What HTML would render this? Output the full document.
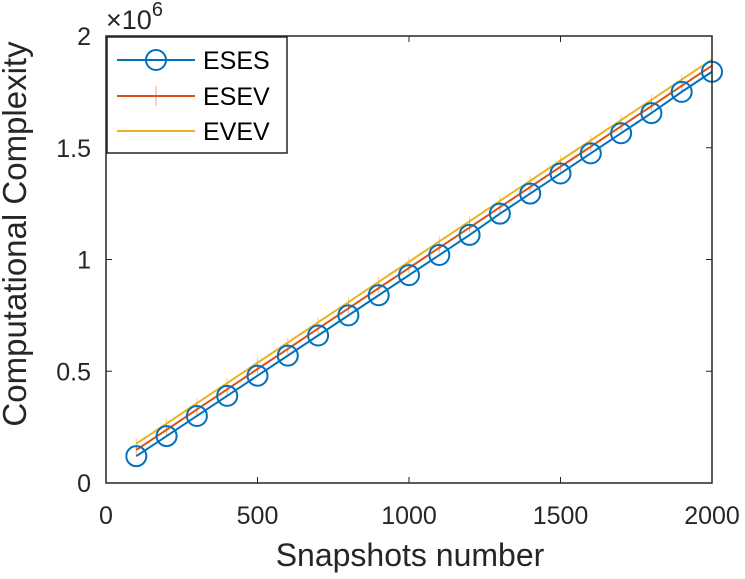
<!DOCTYPE html>
<html><head><meta charset="utf-8"><style>
body{margin:0;background:#fff;font-family:"Liberation Sans",Arial,sans-serif}
text{font-family:"Liberation Sans",Arial,sans-serif}
</style></head><body>
<svg id="chart" width="745" height="579" viewBox="0 0 745 579" xmlns="http://www.w3.org/2000/svg" style="position:absolute;left:0;top:0">
<g id="series"></g>
<g id="axes"></g>
</svg>
<script>
const xCats=[100,200,300,400,500,600,700,800,900,1000,1100,1200,1300,1400,1500,1600,1700,1800,1900,2000];
const esesVals=[0.12,0.21,0.30,0.39,0.48,0.57,0.66,0.75,0.84,0.93,1.02,1.11,1.205,1.295,1.385,1.475,1.565,1.655,1.75,1.84];
const esevVals=[0.148,0.238,0.329,0.419,0.510,0.600,0.691,0.781,0.872,0.962,1.053,1.143,1.234,1.324,1.415,1.505,1.596,1.686,1.777,1.867];
const evevVals=[0.176,0.266,0.357,0.447,0.538,0.628,0.719,0.809,0.900,0.990,1.081,1.171,1.262,1.352,1.443,1.533,1.624,1.714,1.805,1.895];
const xTicks=[0,500,1000,1500,2000];
const yTicks=[0,0.5,1,1.5,2];
const yTickLabels=['0','0.5','1','1.5','2'];

const L=106,R=712,T=36,B=483;
const sx=v=>L+(v/2000)*(R-L);
const sy=v=>B-(v/2)*(B-T);
const NS='http://www.w3.org/2000/svg';
function mk(tag,attrs,parent){const e=document.createElementNS(NS,tag);for(const k in attrs)e.setAttribute(k,attrs[k]);parent.appendChild(e);return e;}
const ser=document.getElementById('series'),ax=document.getElementById('axes');

function line(vals,color,name){
  const p=mk('polyline',{points:vals.map((v,i)=>sx(xCats[i])+','+sy(v)).join(' '),fill:'none',stroke:color,'stroke-width':2},ser);
  
  
}
line(evevVals,'#EDB120','evev-line');
evevVals.forEach((v,i)=>{const m=mk('line',{x1:sx(xCats[i]),x2:sx(xCats[i]),y1:sy(v)-5,y2:sy(v)+5,stroke:'#EDB120','stroke-width':1,opacity:0.6},ser);

});
line(esevVals,'#D95319','esev-line');
esevVals.forEach((v,i)=>{const m=mk('line',{x1:sx(xCats[i]),x2:sx(xCats[i]),y1:sy(v)-5,y2:sy(v)+5,stroke:'#D95319','stroke-width':1,opacity:0.5},ser);

});
line(esesVals,'#0072BD','eses-line');
esesVals.forEach((v,i)=>{const c=mk('circle',{cx:sx(xCats[i]),cy:sy(v),r:10,fill:'none',stroke:'#0072BD','stroke-width':2},ser);

});

const box=mk('rect',{x:L,y:T,width:R-L,height:B-T,fill:'none',stroke:'#262626','stroke-width':1.5},ax);


xTicks.forEach(t=>{
  mk('line',{x1:sx(t),x2:sx(t),y1:B,y2:B-6,stroke:'#262626'},ax);
  mk('line',{x1:sx(t),x2:sx(t),y1:T,y2:T+6,stroke:'#262626'},ax);
  const tx=mk('text',{x:sx(t),y:B+41,'text-anchor':'middle','font-size':25,fill:'#262626'},ax);tx.textContent=t;
  
  
});
yTicks.forEach((t,i)=>{
  mk('line',{x1:L,x2:L+6,y1:sy(t),y2:sy(t),stroke:'#262626'},ax);
  mk('line',{x1:R,x2:R-6,y1:sy(t),y2:sy(t),stroke:'#262626'},ax);
  const tx=mk('text',{x:L-15,y:sy(t)+9,'text-anchor':'end','font-size':25,fill:'#262626'},ax);tx.textContent=yTickLabels[i];
  
  
});
</script>
<svg style="position:absolute;left:0;top:0" width="745" height="579">
<text x="106" y="29" font-size="27" fill="#262626">×10<tspan dy="-13" font-size="20">6</tspan></text>
<text x="410" y="566" text-anchor="middle" font-size="32" fill="#262626">Snapshots number</text>
<text transform="translate(26,234) rotate(-90)" text-anchor="middle" font-size="33" fill="#262626">Computational Complexity</text>
<g>
<rect x="107" y="37" width="180" height="116" fill="#fff" stroke="#262626" stroke-width="1.5"/>
<g><line x1="117" x2="195" y1="60" y2="60" stroke="#0072BD" stroke-width="2"/><circle cx="156" cy="60" r="10" fill="none" stroke="#0072BD" stroke-width="2"/><text x="203" y="69" font-size="25" fill="#000">ESES</text></g>
<g><line x1="117" x2="195" y1="96" y2="96" stroke="#D95319" stroke-width="2"/><line x1="156" x2="156" y1="86" y2="106" stroke="#D95319" opacity="0.5"/><text x="203" y="105" font-size="25" fill="#000">ESEV</text></g>
<g><line x1="117" x2="195" y1="131" y2="131" stroke="#EDB120" stroke-width="2"/><text x="203" y="140" font-size="25" fill="#000">EVEV</text></g>
</g>
</svg>
</body></html>
